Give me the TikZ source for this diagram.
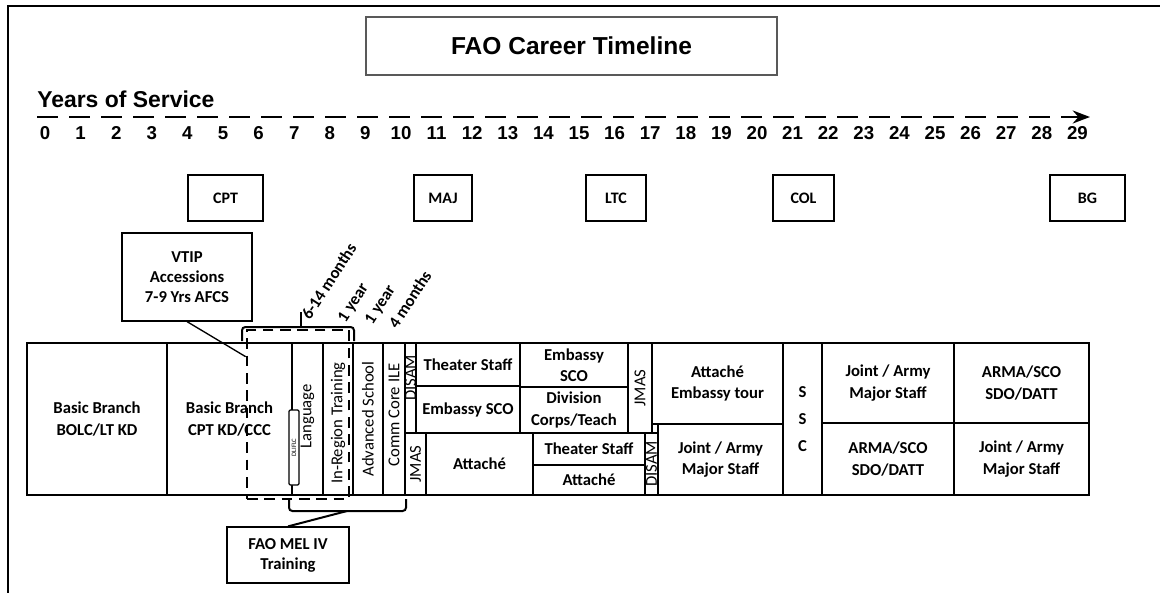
\documentclass[tikz,border=0pt]{standalone}
\usepackage{fontspec}
\setmainfont{Carlito}
\newfontfamily\arialfont{Liberation Sans}
\usetikzlibrary{arrows.meta,calc,fit,positioning}

\begin{document}
\begin{tikzpicture}[x=0.75pt, y=-0.75pt, >=Stealth,
  cell/.style={draw, line width=1.1pt, inner sep=0pt},
  ctext/.style={inner sep=0pt, align=center, font=\fontsize{12.5}{16}\selectfont\bfseries},
  vlabel/.style={rotate=90, inner sep=0pt, font=\fontsize{12.5}{15}\selectfont},
  rank/.style={draw, line width=1.1pt, inner sep=0pt},
  note/.style={draw, line width=0.9pt, inner sep=0pt},
  slant/.style={rotate=57, anchor=west, inner sep=0pt, font=\fontsize{12.5}{15}\selectfont\bfseries},
  yearnum/.style={inner sep=0pt, font=\arialfont\fontsize{14}{16}\selectfont\bfseries},
  bracket/.style={line width=1.5pt, rounded corners=2.5pt},
]
  \useasboundingbox (0,0) rectangle (1160,593);
  \fill[white] (0,0) rectangle (1160,593);
  % frame
  \draw[line width=2.2pt] (1160,6) -- (8,6) -- (8,593);
  % title and time axis
  \node[draw=gray!70!black, line width=1.4pt, inner sep=0pt, fit={(366,17) (777,75)}] (title) {};
  \node[inner sep=0pt, font=\arialfont\fontsize{18.4}{22}\selectfont\bfseries] (title-t) at (title) {FAO Career Timeline};
  \node[anchor=base west, inner sep=0pt, font=\arialfont\fontsize{17.2}{20}\selectfont\bfseries]
        (yos) at (37,107) {Years of Service};
  \coordinate (axisS) at (37,117);
  \coordinate (axisE) at (1090,117);
  \draw[->, line width=2.2pt, dash pattern=on 16pt off 8pt] (axisS) -- (axisE);
  \foreach \k in {0,...,29}
    \node[yearnum] (yr\k) at ({45+35.6*\k},133) {\k};
  % ranks
  \foreach \nm/\xa/\xb/\txt in {cpt/188/263/CPT, maj/414/472/MAJ, ltc/586/646/LTC,
                                col/773/834/COL, bg/1050/1125/BG} {
    \node[rank, fit={(\xa,175) (\xb,221)}] (\nm) {};
    \node[ctext, font=\fontsize{12}{14}\selectfont\bfseries] (\nm-t) at (\nm) {\txt};
  }
  % career table
  \node[cell, fit={(27,343) (167,495)}] (bbA) {};
  \node[ctext] (bbA-t) at (bbA) {Basic Branch\\BOLC/LT KD};
  \node[cell, fit={(167,343) (292,495)}] (bbB) {};
  \node[ctext] (bbB-t) at (bbB) {Basic Branch\\CPT KD/CCC};
  \node[cell, fit={(292,343) (323,495)}] (lang) {};
  \node[vlabel, xshift=2pt] (lang-t) at (lang.center) {Language};
  \node[cell, fit={(323,343) (353,495)}] (inreg) {};
  \node[vlabel] (inreg-t) at ($(inreg.center)+(0,4)$) {In-Region Training};
  \node[cell, fit={(353,343) (383,495)}] (adv) {};
  \node[vlabel] (adv-t) at (adv.center) {Advanced School};
  \node[cell, fit={(383,343) (405,495)}] (comm) {};
  \node[vlabel] (comm-t) at ($(comm.center)+(0,-4)$) {Comm Core ILE};
  \node[cell, fit={(405,343) (416,433)}] (disamA) {};
  \node[vlabel] (disamA-t) at ($(disamA.center)+(0,-10)$) {DISAM};
  \node[cell, fit={(416,343) (520,386)}] (thA) {};
  \node[ctext] (thA-t) at (thA) {Theater Staff};
  \node[cell, fit={(416,386) (520,433)}] (embA) {};
  \node[ctext] (embA-t) at (embA) {Embassy SCO};
  \node[cell, fit={(520,343) (628,387)}] (embB) {};
  \node[ctext] (embB-t) at (embB) {Embassy\\SCO};
  \node[cell, fit={(520,387) (628,433)}] (div) {};
  \node[ctext] (div-t) at (div) {Division\\Corps/Teach};
  \node[cell, fit={(628,343) (652,433)}] (jmasA) {};
  \node[vlabel] (jmasA-t) at (jmasA.center) {JMAS};
  \node[cell, fit={(405,433) (426,495)}] (jmasB) {};
  \node[vlabel] (jmasB-t) at (jmasB.center) {JMAS};
  \node[cell, fit={(426,433) (533,495)}] (attA) {};
  \node[ctext] (attA-t) at (attA) {Attaché};
  \node[cell, fit={(533,433) (645,465)}] (thB) {};
  \node[ctext] (thB-t) at (thB) {Theater Staff};
  \node[cell, fit={(533,465) (645,495)}] (attB) {};
  \node[ctext] (attB-t) at (attB) {Attaché};
  \node[cell, fit={(645,433) (658,495)}] (disamB) {};
  \node[vlabel] (disamB-t) at (disamB.center) {DISAM};
  \node[cell, fit={(652,343) (783,424)}] (attC) {};
  \node[ctext] (attC-t) at (attC) {Attaché\\Embassy tour};
  \node[cell, fit={(658,424) (783,495)}] (jntA) {};
  \node[ctext] (jntA-t) at (jntA) {Joint / Army\\Major Staff};
  \node[cell, fit={(783,343) (822,495)}] (ssc) {};
  \node[ctext, font=\fontsize{12.5}{20}\selectfont\bfseries] (ssc-t) at (ssc) {S\\S\\C};
  \node[cell, fit={(822,343) (954,423)}] (jntB) {};
  \node[ctext] (jntB-t) at (jntB) {Joint / Army\\Major Staff};
  \node[cell, fit={(954,343) (1089,423)}] (armaA) {};
  \node[ctext] (armaA-t) at (armaA) {ARMA/SCO\\SDO/DATT};
  \node[cell, fit={(822,423) (954,495)}] (armaB) {};
  \node[ctext] (armaB-t) at (armaB) {ARMA/SCO\\SDO/DATT};
  \node[cell, fit={(954,423) (1089,495)}] (jntC) {};
  \node[ctext] (jntC-t) at (jntC) {Joint / Army\\Major Staff};
  \node[draw, fill=white, line width=0.9pt, rounded corners=1pt, inner sep=0pt,
        fit={(289,410) (299,485)}] (dli) {};
  \node[rotate=90, inner sep=0pt, font=\fontsize{5}{6}\selectfont] (dli-t) at (dli.center) {DLIFLC};
  % FAO training block
  \node[draw, line width=2pt, dash pattern=on 8pt off 5pt, inner sep=0pt,
        fit={(247,330) (349,499)}] (mel) {};
  \coordinate (topL) at (242,341);
  \coordinate (topR) at (354,341);
  \draw[bracket] (topL) -- (242,327) -- (354,327) -- (topR);
  \draw[line width=1.5pt] (301,327) -- (301,312);
  \node[slant] (lblA) at (305,318) {6-14 months};
  \node[slant] (lblB) at (342,321) {1 year};
  \node[slant] (lblC) at (369,323) {1 year};
  \node[slant] (lblD) at (392,327) {4 months};
  \coordinate (botL) at (289,499);
  \coordinate (botR) at (406,499);
  \coordinate (botM) at (347,511);
  \draw[bracket] (botL) -- (289,511) -- (406,511) -- (botR);
  % notes
  \node[note, fit={(122,233) (252,321)}] (vtip) {};
  \node[ctext, font=\fontsize{12.5}{15}\selectfont\bfseries] (vtip-t) at (vtip) {VTIP\\Accessions\\7-9 Yrs AFCS};
  \draw[line width=1pt] (vtip.south) -- ($(mel.north west)+(0,28)$);
  \node[note, fit={(227,527) (349,583)}] (fao) {};
  \node[ctext, font=\fontsize{12.5}{15}\selectfont\bfseries] (fao-t) at (fao) {FAO MEL IV\\Training};
  \draw[line width=1.5pt] (botM) -- (fao.north);
\end{tikzpicture}
\end{document}
